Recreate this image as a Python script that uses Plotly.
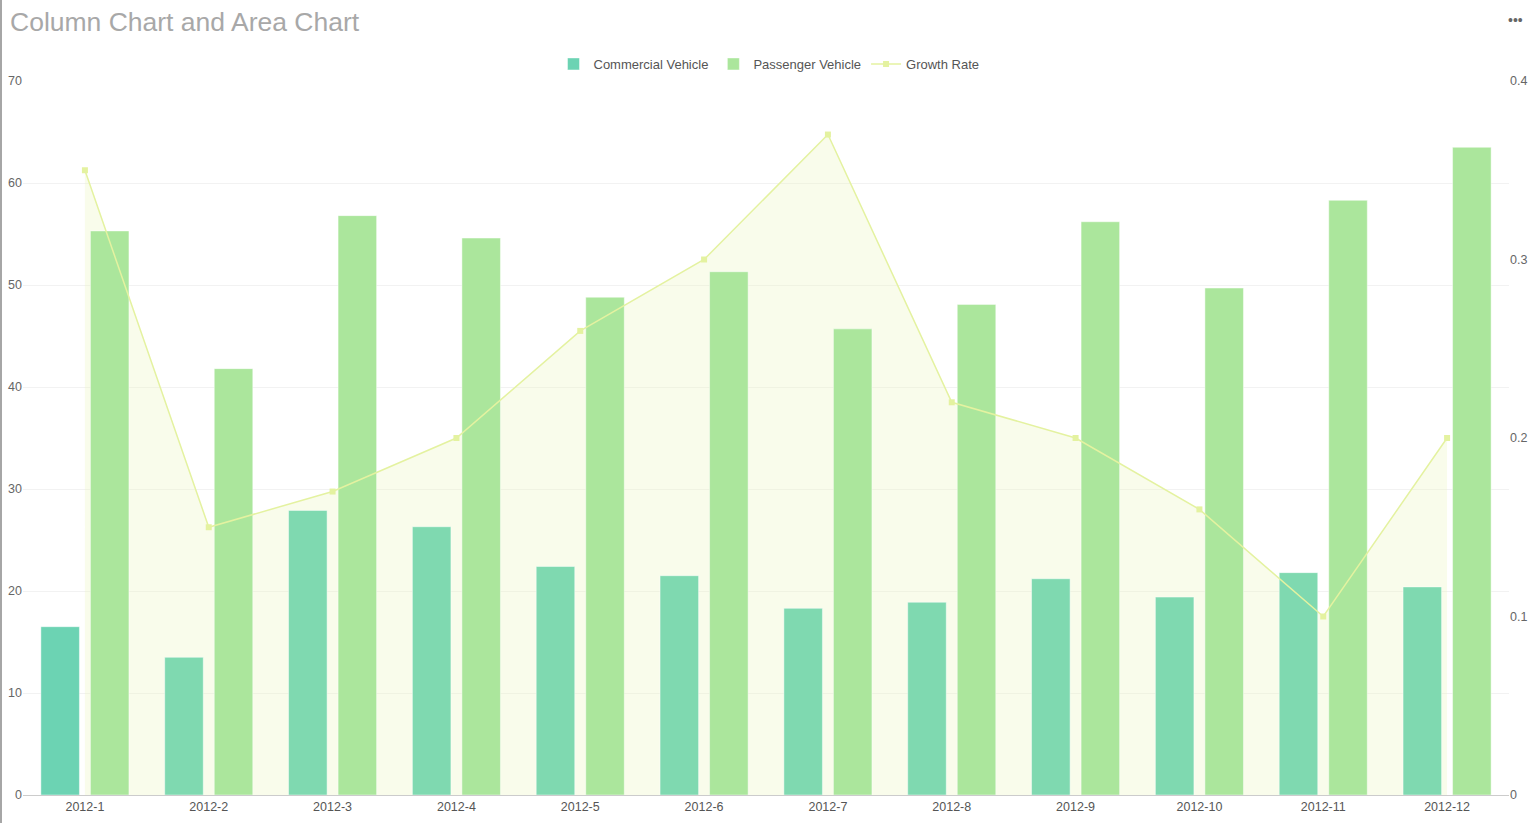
import plotly.graph_objects as go

months = ["2012-1", "2012-2", "2012-3", "2012-4", "2012-5", "2012-6",
          "2012-7", "2012-8", "2012-9", "2012-10", "2012-11", "2012-12"]
commercial = [16.5, 13.5, 27.9, 26.3, 22.4, 21.5, 18.3, 18.9, 21.2, 19.4, 21.8, 20.4]
passenger = [55.3, 41.8, 56.8, 54.6, 48.8, 51.3, 45.7, 48.1, 56.2, 49.7, 58.3, 63.5]
growth = [0.35, 0.15, 0.17, 0.20, 0.26, 0.30, 0.37, 0.22, 0.20, 0.16, 0.10, 0.20]
left_ticks = [0, 10, 20, 30, 40, 50, 60, 70]
right_ticks = [0, 0.1, 0.2, 0.3, 0.4]

FONT = "Liberation Sans, Arial, sans-serif"
com_colors = ["#6cd3b3"] + ["#7fd9b0"] * 11

W, H = 1537, 823
L, R, T, B = 23, 28, 81, 28
PW, PH = W - L - R, H - T - B

fig = go.Figure()

# area fill (behind bars), on main axis y (right scale)
fig.add_trace(go.Scatter(
    x=months, y=growth, yaxis="y", mode="lines", fill="tozeroy",
    fillcolor="rgba(238,245,195,0.33)", line=dict(width=0, color="rgba(0,0,0,0)"),
    showlegend=False, hoverinfo="skip"))

fig.add_trace(go.Bar(
    x=months, y=commercial, name="Commercial Vehicle", yaxis="y2",
    marker=dict(color=com_colors, line=dict(color="rgba(255,255,255,0.45)", width=1))))
fig.add_trace(go.Bar(
    x=months, y=passenger, name="Passenger Vehicle", yaxis="y2",
    marker=dict(color="#abe69c", line=dict(color="rgba(255,255,255,0.45)", width=1))))

fig.add_trace(go.Scatter(
    x=months, y=growth, name="Growth Rate", yaxis="y3", mode="lines+markers",
    line=dict(color="#e4f2a0", width=1.5),
    marker=dict(symbol="square", size=6, color="#e4f2a0")))

fig.update_layout(
    width=W, height=H,
    margin=dict(l=L, r=R, t=T, b=B, autoexpand=False),
    paper_bgcolor="white", plot_bgcolor="white",
    font=dict(family=FONT, size=12, color="#666"),
    barmode="group", bargap=0.2, bargroupgap=0.222,
    title=dict(text="Column Chart and Area Chart", x=10/W, xref="container",
               xanchor="left", y=1-22/H, yref="container", yanchor="middle",
               pad=dict(l=0, r=0, t=0, b=0),
               font=dict(size=26.5, color="#a8a8a8", family=FONT)),
    legend=dict(orientation="h", x=(769-L)/PW, xanchor="center", y=1+(T-64)/PH,
                yanchor="middle", font=dict(size=13, color="#555"), itemwidth=30,
                traceorder="normal"),
    xaxis=dict(type="category", range=[-0.5, 11.5], showgrid=False, showline=True,
               linecolor="#ccc", linewidth=1, ticks="",
               tickfont=dict(size=12.5, color="#555")),
    yaxis=dict(range=[0, 0.4], side="right", tickvals=right_ticks,
               ticktext=["0", "0.1", "0.2", "0.3", "0.4"], showgrid=False,
               zeroline=False, ticks="", tickfont=dict(size=12.5, color="#666")),
    yaxis2=dict(range=[0, 70], overlaying="y", side="left", tickvals=left_ticks,
                showgrid=True, gridcolor="#f2f2f2", gridwidth=1, zeroline=False,
                ticks="", tickfont=dict(size=12.5, color="#666")),
    yaxis3=dict(range=[0, 0.4], overlaying="y", side="right", visible=False,
                showgrid=False, zeroline=False),
    showlegend=True,
)

fig.add_annotation(text="•••", xref="paper", yref="paper",
                   x=(1516-L)/PW, y=1+(T-20)/PH, showarrow=False,
                   font=dict(size=14, color="#666"), xanchor="center", yanchor="middle")
fig.add_shape(type="line", xref="paper", yref="paper",
              x0=(1-L)/PW, x1=(1-L)/PW, y0=-B/PH, y1=1+T/PH,
              line=dict(color="#888", width=1.5))

fig.write_html("out.html", config={"displayModeBar": False},
               post_script="document.body.style.margin='0';document.body.style.overflow='hidden';")
